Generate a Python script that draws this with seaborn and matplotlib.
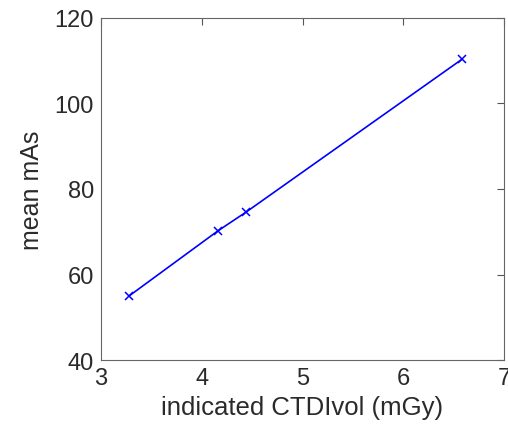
import matplotlib
matplotlib.use("Agg")
import matplotlib.pyplot as plt
import seaborn as sns
import pandas as pd

ctdi_vol = [3.28, 4.16, 4.44, 6.58]
mean_mas = [55.0, 70.2, 74.6, 110.3]

sns.set_style("white")
plt.rcParams['font.family'] = ['Liberation Sans', 'DejaVu Sans']

df = pd.DataFrame({"ctdi": ctdi_vol, "mas": mean_mas})

fig = plt.figure(figsize=(5.08, 4.27), dpi=100)
ax = fig.add_axes([101 / 508, 1 - 361 / 427, 403 / 508, 342 / 427])

sns.lineplot(data=df, x="ctdi", y="mas", ax=ax, color="#0000ff", marker="x",
             markersize=5.5, markeredgewidth=1.1, linewidth=1.2, markeredgecolor="#0000ff")

ax.set_xlim(3, 7)
ax.set_ylim(40, 120)
ax.set_xticks([3, 4, 5, 6, 7])
ax.set_yticks([40, 60, 80, 100, 120])
ax.tick_params(direction="in", top=True, right=True, length=5, width=0.8,
               labelsize=17, colors="#555555", labelcolor="#2a2a2a", pad=5)
for s in ax.spines.values():
    s.set_color("#666666")
    s.set_linewidth(0.8)

ax.set_xlabel("indicated CTDIvol (mGy)", fontsize=18.5, color="#2a2a2a", labelpad=4)
ax.set_ylabel("mean mAs", fontsize=18, color="#2a2a2a", labelpad=8)

fig.savefig("out.png", dpi=100)
